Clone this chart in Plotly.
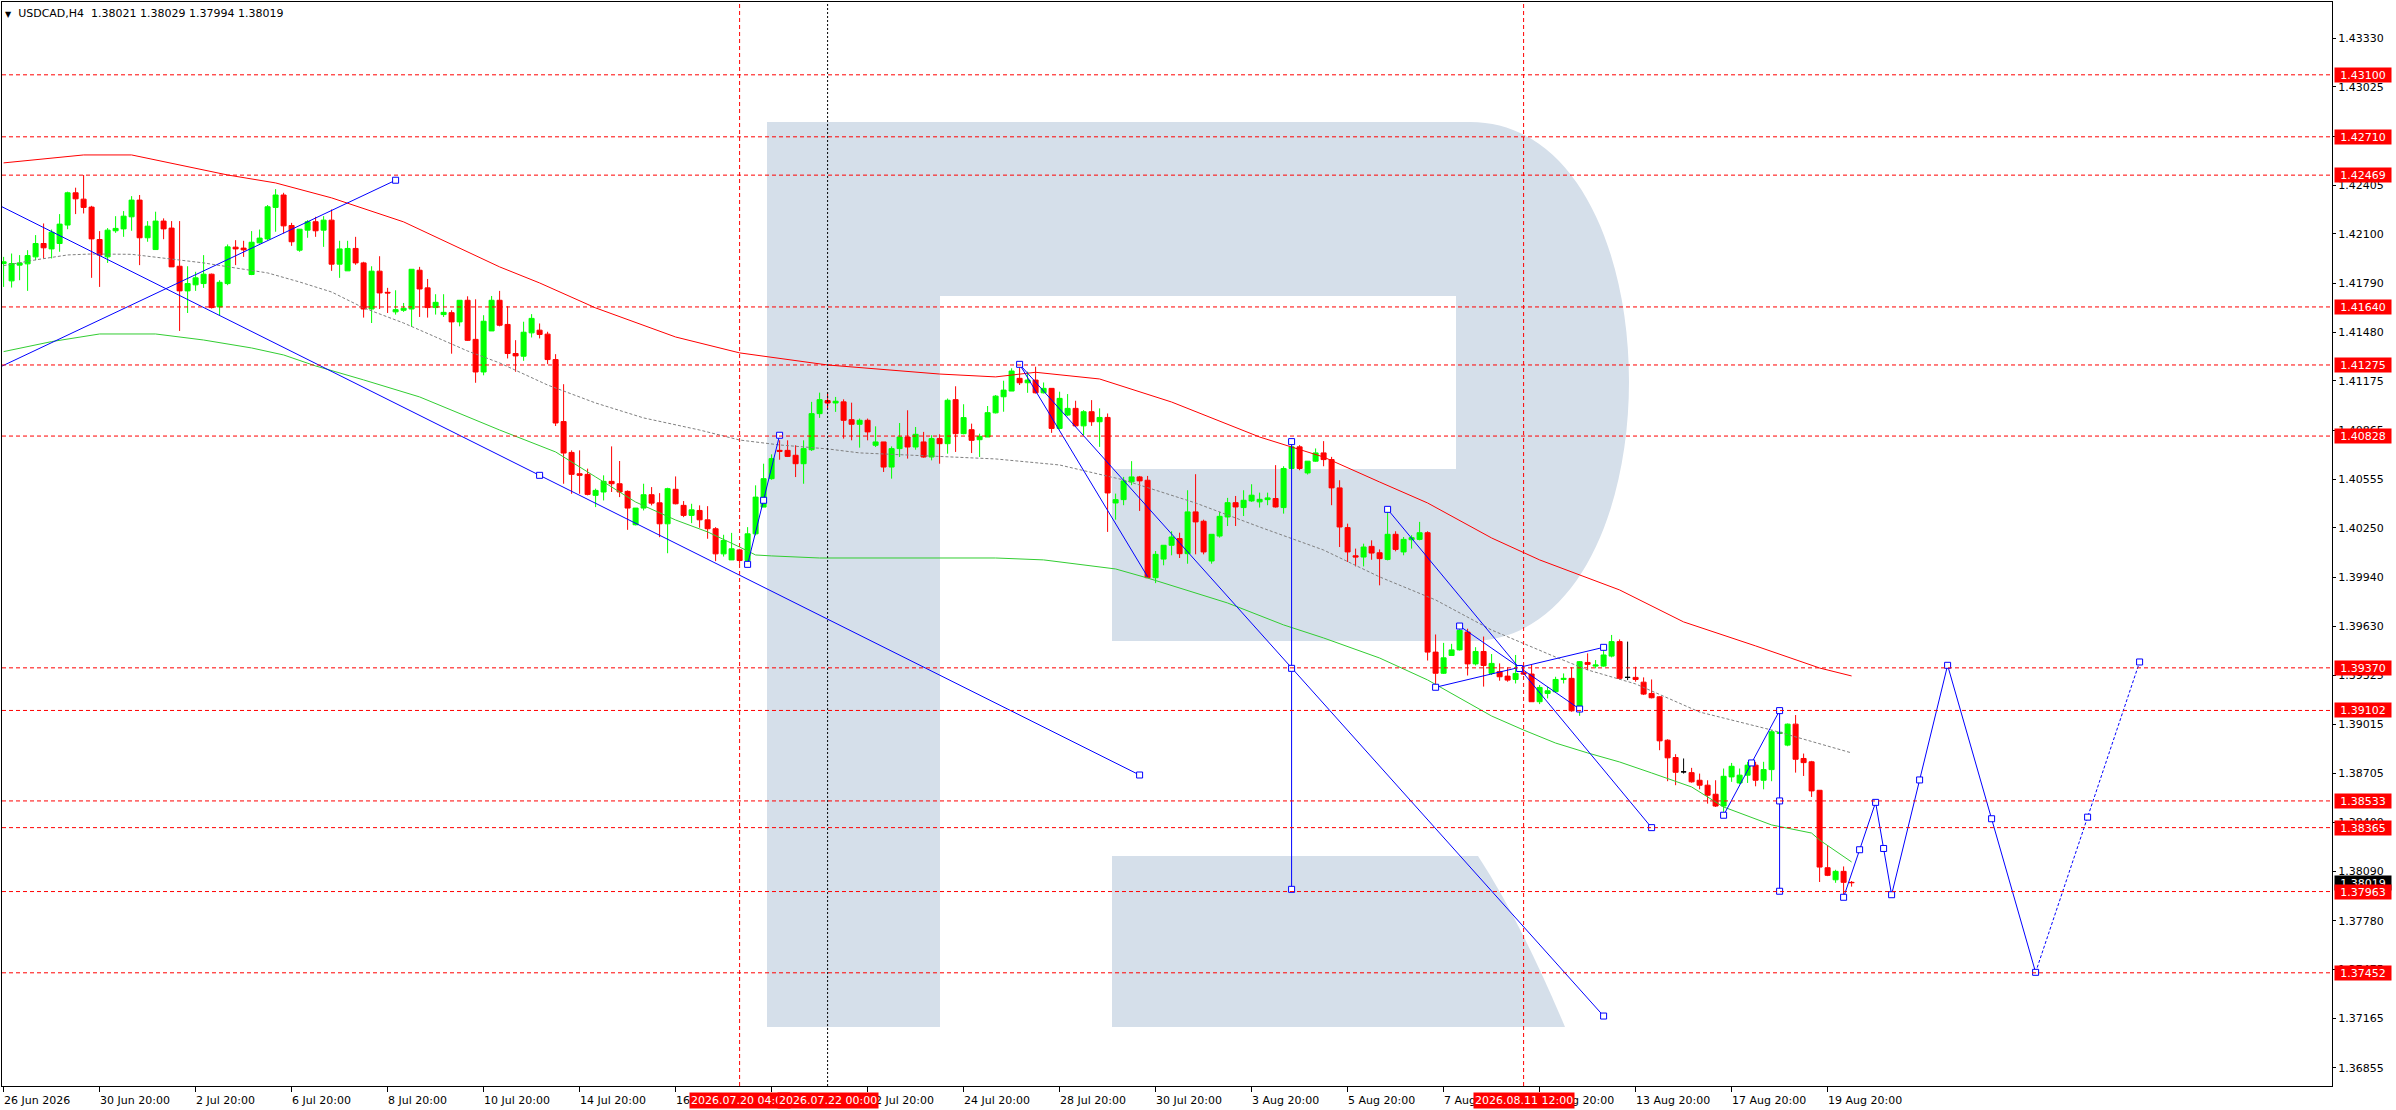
import plotly.graph_objects as go

FONT = "DejaVu Sans"

# ---------------- data ----------------
header_symbol = "USDCAD,H4"
header_values = ["1.38021", "1.38029", "1.37994", "1.38019"]

bar_open = [
    1.41913, 1.41804, 1.41903, 1.41911, 1.41955, 1.42039, 1.42005, 1.42039, 1.42155, 1.42358,
    1.42318, 1.42268, 1.42064, 1.41955, 1.42119, 1.42131, 1.42207, 1.42312, 1.42075, 1.42001,
    1.42180, 1.42136, 1.41896, 1.41741, 1.41779, 1.41787, 1.41846, 1.41640, 1.41787, 1.42016,
    1.42010, 1.41844, 1.42043, 1.42068, 1.42266, 1.42344, 1.42152, 1.41997, 1.42123, 1.42176,
    1.42123, 1.42186, 1.41909, 1.41867, 1.42008, 1.41917, 1.41627, 1.41865, 1.41732, 1.41609,
    1.41619, 1.41627, 1.41871, 1.41760, 1.41636, 1.41592, 1.41604, 1.41546, 1.41682, 1.41436,
    1.41231, 1.41489, 1.41682, 1.41530, 1.41347, 1.41330, 1.41477, 1.41494, 1.41469, 1.41309,
    1.40919, 1.40725, 1.40591, 1.40587, 1.40455, 1.40476, 1.40543, 1.40528, 1.40480, 1.40270,
    1.40375, 1.40459, 1.40408, 1.40276, 1.40493, 1.40392, 1.40329, 1.40360, 1.40301, 1.40245,
    1.40087, 1.40049, 1.40112, 1.40045, 1.40213, 1.40381, 1.40560, 1.40738, 1.40738, 1.40707,
    1.40654, 1.40742, 1.40969, 1.41051, 1.41036, 1.41043, 1.40931, 1.40902, 1.40927, 1.40770,
    1.40791, 1.40633, 1.40749, 1.40822, 1.40759, 1.40791, 1.40696, 1.40812, 1.40780, 1.41057,
    1.40843, 1.40868, 1.40805, 1.40822, 1.40974, 1.41075, 1.41111, 1.41191, 1.41163, 1.41180,
    1.41100, 1.41128, 1.40876, 1.40960, 1.41002, 1.40892, 1.40981, 1.40918, 1.40945, 1.40407,
    1.40428, 1.40540, 1.40571, 1.40550, 1.39937, 1.40054, 1.40141, 1.40183, 1.40088, 1.40351,
    1.40292, 1.40042, 1.40199, 1.40319, 1.40409, 1.40378, 1.40420, 1.40414, 1.40428, 1.40435,
    1.40378, 1.40624, 1.40760, 1.40596, 1.40670, 1.40722, 1.40680, 1.40502, 1.40252, 1.40075,
    1.40067, 1.40134, 1.40094, 1.40052, 1.40210, 1.40099, 1.40176, 1.40178, 1.40220, 1.39469,
    1.39336, 1.39448, 1.39483, 1.39595, 1.39395, 1.39473, 1.39335, 1.39346, 1.39318, 1.39297,
    1.39339, 1.39331, 1.39157, 1.39209, 1.39220, 1.39297, 1.39304, 1.39100, 1.39404, 1.39381,
    1.39381, 1.39444, 1.39535, 1.39310, 1.39310, 1.39280, 1.39209, 1.39188, 1.38915, 1.38806,
    1.38716, 1.38711, 1.38663, 1.38632, 1.38575, 1.38501, 1.38684, 1.38646, 1.38695, 1.38758,
    1.38663, 1.38730, 1.38957, 1.38884, 1.39016, 1.38800, 1.38779, 1.38600, 1.38113, 1.38037,
    1.38090, 1.38021,
]
bar_high = [
    1.41955, 1.41976, 1.41966, 1.41997, 1.42092, 1.42165, 1.42127, 1.42224, 1.42365, 1.42390,
    1.42470, 1.42276, 1.42117, 1.42136, 1.42211, 1.42243, 1.42337, 1.42344, 1.42180, 1.42239,
    1.42197, 1.42180, 1.42180, 1.41896, 1.41861, 1.41966, 1.41850, 1.41808, 1.42033, 1.42060,
    1.42056, 1.42117, 1.42127, 1.42281, 1.42381, 1.42358, 1.42169, 1.42129, 1.42186, 1.42207,
    1.42211, 1.42253, 1.42056, 1.42056, 1.42081, 1.41924, 1.41896, 1.41959, 1.41760, 1.41745,
    1.41665, 1.41877, 1.41892, 1.41816, 1.41720, 1.41720, 1.41619, 1.41682, 1.41707, 1.41688,
    1.41588, 1.41709, 1.41741, 1.41645, 1.41431, 1.41547, 1.41595, 1.41536, 1.41484, 1.41343,
    1.41154, 1.40738, 1.40738, 1.40623, 1.40497, 1.40581, 1.40763, 1.40671, 1.40486, 1.40375,
    1.40528, 1.40507, 1.40469, 1.40503, 1.40574, 1.40419, 1.40402, 1.40392, 1.40387, 1.40255,
    1.40207, 1.40219, 1.40119, 1.40255, 1.40518, 1.40654, 1.40713, 1.40801, 1.40801, 1.40770,
    1.40801, 1.41043, 1.41101, 1.41101, 1.41074, 1.41059, 1.41038, 1.40938, 1.40938, 1.40889,
    1.40791, 1.40763, 1.40910, 1.40990, 1.40885, 1.40854, 1.40833, 1.40839, 1.41064, 1.41141,
    1.41028, 1.40906, 1.40843, 1.41017, 1.41086, 1.41176, 1.41254, 1.41279, 1.41233, 1.41264,
    1.41165, 1.41128, 1.41107, 1.41092, 1.41050, 1.40991, 1.41054, 1.41002, 1.40970, 1.40466,
    1.40571, 1.40670, 1.40577, 1.40577, 1.40105, 1.40141, 1.40229, 1.40220, 1.40487, 1.40588,
    1.40302, 1.40210, 1.40351, 1.40439, 1.40451, 1.40487, 1.40525, 1.40472, 1.40472, 1.40645,
    1.40638, 1.40781, 1.40771, 1.40670, 1.40750, 1.40796, 1.40697, 1.40550, 1.40277, 1.40120,
    1.40151, 1.40172, 1.40115, 1.40365, 1.40229, 1.40193, 1.40204, 1.40288, 1.40229, 1.39580,
    1.39527, 1.39521, 1.39626, 1.39616, 1.39500, 1.39567, 1.39457, 1.39398, 1.39373, 1.39451,
    1.39381, 1.39388, 1.39262, 1.39251, 1.39314, 1.39335, 1.39373, 1.39413, 1.39461, 1.39419,
    1.39486, 1.39577, 1.39549, 1.39535, 1.39377, 1.39310, 1.39297, 1.39192, 1.38921, 1.38827,
    1.38800, 1.38741, 1.38705, 1.38663, 1.38663, 1.38737, 1.38772, 1.38737, 1.38779, 1.38779,
    1.38779, 1.38978, 1.38970, 1.39020, 1.39073, 1.38831, 1.38785, 1.38600, 1.38254, 1.38100,
    1.38121, 1.38029,
]
bar_low = [
    1.41766, 1.41762, 1.41808, 1.41741, 1.41934, 1.41945, 1.41945, 1.41987, 1.42129, 1.42224,
    1.42228, 1.41823, 1.41766, 1.41917, 1.42106, 1.42081, 1.42119, 1.41903, 1.42050, 1.42001,
    1.42066, 1.41892, 1.41489, 1.41602, 1.41741, 1.41760, 1.41630, 1.41588, 1.41777, 1.41903,
    1.41955, 1.41840, 1.42039, 1.42060, 1.42113, 1.42102, 1.42024, 1.41987, 1.42075, 1.42081,
    1.42018, 1.41867, 1.41823, 1.41867, 1.41905, 1.41573, 1.41539, 1.41627, 1.41602, 1.41592,
    1.41609, 1.41514, 1.41577, 1.41573, 1.41592, 1.41577, 1.41346, 1.41518, 1.41426, 1.41163,
    1.41210, 1.41489, 1.41518, 1.41316, 1.41232, 1.41301, 1.41448, 1.41442, 1.41280, 1.40891,
    1.40528, 1.40465, 1.40465, 1.40455, 1.40381, 1.40423, 1.40476, 1.40444, 1.40238, 1.40266,
    1.40360, 1.40392, 1.40192, 1.40091, 1.40398, 1.40318, 1.40280, 1.40251, 1.40182, 1.40041,
    1.40070, 1.40049, 1.40024, 1.40028, 1.40203, 1.40381, 1.40553, 1.40679, 1.40696, 1.40570,
    1.40528, 1.40734, 1.40942, 1.41001, 1.40980, 1.40812, 1.40801, 1.40755, 1.40801, 1.40759,
    1.40602, 1.40560, 1.40696, 1.40686, 1.40742, 1.40692, 1.40675, 1.40654, 1.40717, 1.40728,
    1.40839, 1.40721, 1.40696, 1.40822, 1.40970, 1.40981, 1.41111, 1.41149, 1.41100, 1.41096,
    1.41096, 1.40848, 1.40869, 1.40953, 1.40886, 1.40834, 1.40892, 1.40760, 1.40225, 1.40302,
    1.40393, 1.40519, 1.40357, 1.39937, 1.39903, 1.40015, 1.40078, 1.40061, 1.40025, 1.40084,
    1.40084, 1.40025, 1.40189, 1.40262, 1.40262, 1.40325, 1.40414, 1.40378, 1.40393, 1.40378,
    1.40340, 1.40617, 1.40613, 1.40586, 1.40666, 1.40638, 1.40393, 1.40130, 1.40036, 1.40008,
    1.40008, 1.40050, 1.39889, 1.40046, 1.40103, 1.40078, 1.40120, 1.40172, 1.39416, 1.39252,
    1.39332, 1.39448, 1.39479, 1.39322, 1.39385, 1.39252, 1.39325, 1.39289, 1.39283, 1.39272,
    1.39325, 1.39157, 1.39142, 1.39178, 1.39215, 1.39272, 1.39094, 1.39068, 1.39356, 1.39367,
    1.39377, 1.39436, 1.39297, 1.39293, 1.39283, 1.39199, 1.39178, 1.38852, 1.38657, 1.38632,
    1.38705, 1.38648, 1.38606, 1.38516, 1.38495, 1.38464, 1.38653, 1.38638, 1.38646, 1.38625,
    1.38606, 1.38657, 1.38953, 1.38877, 1.38711, 1.38690, 1.38558, 1.38023, 1.38060, 1.38018,
    1.37939, 1.37994,
]
bar_close = [
    1.41924, 1.41913, 1.41917, 1.41963, 1.42039, 1.42012, 1.42110, 1.42161, 1.42358, 1.42320,
    1.42266, 1.42068, 1.41966, 1.42123, 1.42134, 1.42211, 1.42312, 1.42075, 1.42148, 1.42180,
    1.42131, 1.41892, 1.41741, 1.41787, 1.41823, 1.41846, 1.41636, 1.41795, 1.42018, 1.42005,
    1.41999, 1.42047, 1.42073, 1.42270, 1.42344, 1.42150, 1.42050, 1.42129, 1.42176, 1.42119,
    1.42186, 1.41909, 1.42005, 1.42008, 1.41917, 1.41627, 1.41865, 1.41728, 1.41728, 1.41623,
    1.41632, 1.41877, 1.41753, 1.41636, 1.41669, 1.41606, 1.41546, 1.41682, 1.41430, 1.41231,
    1.41550, 1.41682, 1.41525, 1.41347, 1.41332, 1.41481, 1.41568, 1.41467, 1.41309, 1.40910,
    1.40721, 1.40587, 1.40581, 1.40461, 1.40486, 1.40543, 1.40528, 1.40476, 1.40375, 1.40375,
    1.40459, 1.40406, 1.40276, 1.40497, 1.40402, 1.40329, 1.40364, 1.40301, 1.40245, 1.40087,
    1.40171, 1.40119, 1.40045, 1.40213, 1.40444, 1.40560, 1.40686, 1.40732, 1.40700, 1.40654,
    1.40749, 1.40969, 1.41057, 1.41036, 1.41047, 1.40927, 1.40902, 1.40927, 1.40854, 1.40791,
    1.40633, 1.40749, 1.40822, 1.40759, 1.40839, 1.40696, 1.40812, 1.40780, 1.41053, 1.40843,
    1.40944, 1.40801, 1.40826, 1.40975, 1.41079, 1.41117, 1.41237, 1.41163, 1.41180, 1.41100,
    1.41128, 1.40876, 1.41065, 1.41002, 1.40892, 1.40981, 1.40918, 1.40945, 1.40470, 1.40428,
    1.40546, 1.40571, 1.40546, 1.39937, 1.40084, 1.40141, 1.40193, 1.40088, 1.40351, 1.40288,
    1.40099, 1.40210, 1.40323, 1.40409, 1.40382, 1.40424, 1.40456, 1.40430, 1.40439, 1.40382,
    1.40624, 1.40760, 1.40624, 1.40670, 1.40722, 1.40680, 1.40502, 1.40256, 1.40099, 1.40067,
    1.40130, 1.40092, 1.40057, 1.40210, 1.40115, 1.40178, 1.40189, 1.40220, 1.39469, 1.39336,
    1.39433, 1.39483, 1.39605, 1.39395, 1.39473, 1.39385, 1.39398, 1.39314, 1.39293, 1.39335,
    1.39331, 1.39157, 1.39247, 1.39226, 1.39297, 1.39304, 1.39100, 1.39409, 1.39392, 1.39388,
    1.39451, 1.39535, 1.39304, 1.39310, 1.39297, 1.39205, 1.39182, 1.38911, 1.38804, 1.38713,
    1.38716, 1.38653, 1.38632, 1.38569, 1.38501, 1.38688, 1.38751, 1.38695, 1.38758, 1.38663,
    1.38730, 1.38968, 1.38965, 1.39016, 1.38795, 1.38774, 1.38596, 1.38117, 1.38065, 1.38090,
    1.38021, 1.38019,
]

x_tick_bars = [0, 12, 24, 36, 48, 60, 72, 84, 96, 108, 120, 132, 144, 156, 168, 180, 192, 204, 216, 228]
x_tick_text = ["26 Jun 2026", "30 Jun 20:00", "2 Jul 20:00", "6 Jul 20:00", "8 Jul 20:00",
               "10 Jul 20:00", "14 Jul 20:00", "16 Jul 20:00", "20 Jul 20:00", "22 Jul 20:00",
               "24 Jul 20:00", "28 Jul 20:00", "30 Jul 20:00", "3 Aug 20:00", "5 Aug 20:00",
               "7 Aug 20:00", "11 Aug 20:00", "13 Aug 20:00", "17 Aug 20:00", "19 Aug 20:00"]

y_tick_values = [1.43330, 1.43025, 1.42715, 1.42405, 1.42100, 1.41790, 1.41480, 1.41175,
                 1.40865, 1.40555, 1.40250, 1.39940, 1.39630, 1.39325, 1.39015, 1.38705,
                 1.38400, 1.38090, 1.37780, 1.37475, 1.37165, 1.36855]

level_prices = [1.43100, 1.42710, 1.42469, 1.41640, 1.41275, 1.40828,
                1.39370, 1.39102, 1.38533, 1.38365, 1.37963, 1.37452]
current_price = 1.38019

time_marker_bars = [92, 103, 190]
time_marker_labels = ["2026.07.20 04:00", "2026.07.22 00:00", "2026.08.11 12:00"]

ma_slow_bars = [0, 10, 16, 28, 34, 41, 50, 62, 67, 74, 84, 92, 103, 117, 124, 129, 137, 146,
                157, 165, 172, 178, 186, 192, 202, 210, 219, 227, 231]
ma_slow_values = [1.42546, 1.42596, 1.42596, 1.42470, 1.42420, 1.42326, 1.42175, 1.41892,
                  1.41791, 1.41634, 1.41451, 1.41351, 1.41275, 1.41218, 1.41200, 1.41229,
                  1.41187, 1.41042, 1.40822, 1.40696, 1.40539, 1.40407, 1.40187, 1.40049,
                  1.39860, 1.39659, 1.39508, 1.39369, 1.39319]

ma_mid_bars = [0, 6, 12, 19, 25, 31, 35, 39, 45, 52, 62, 69, 74, 79, 84, 88, 92, 94, 96, 102,
               124, 130, 139, 143, 153, 160, 165, 172, 178, 186, 190, 194, 198, 202, 206, 211,
               215, 221, 226, 227, 231]
ma_mid_values = [1.41359, 1.41422, 1.41470, 1.41470, 1.41432, 1.41382, 1.41338, 1.41269,
                 1.41181, 1.41074, 1.40866, 1.40728, 1.40571, 1.40413, 1.40300, 1.40225,
                 1.40130, 1.40080, 1.40074, 1.40061, 1.40061, 1.40049, 1.39992, 1.39935,
                 1.39778, 1.39640, 1.39558, 1.39432, 1.39294, 1.39067, 1.38979, 1.38897,
                 1.38835, 1.38778, 1.38709, 1.38621, 1.38495, 1.38382, 1.38331, 1.38287,
                 1.38149]

ma_fast_bars = [0, 4, 8, 11, 16, 20, 25, 29, 33, 37, 41, 45, 50, 54, 58, 62, 68, 74, 80, 87,
                92, 97, 103, 107, 116, 124, 132, 140, 149, 157, 165, 172, 179, 186, 194, 198,
                204, 212, 221, 231]
ma_fast_values = [1.41900, 1.41936, 1.41967, 1.41973, 1.41971, 1.41948, 1.41917, 1.41885,
                  1.41854, 1.41797, 1.41734, 1.41634, 1.41539, 1.41451, 1.41363, 1.41288,
                  1.41149, 1.41036, 1.40942, 1.40866, 1.40803, 1.40772, 1.40747, 1.40722,
                  1.40703, 1.40684, 1.40646, 1.40552, 1.40407, 1.40256, 1.40111, 1.39942,
                  1.39797, 1.39608, 1.39438, 1.39357, 1.39269, 1.39092, 1.38979, 1.38835]

# drawn trend lines (bar index, price)
trend_lines = [
    ([-8, 142], [1.42466, 1.38696]),
    ([-1, 49], [1.41249, 1.42437]),
    ([93, 97], [1.40021, 1.40833]),
    ([127, 143], [1.41279, 1.39943]),
    ([127, 200], [1.41279, 1.37180]),
    ([161, 161], [1.40793, 1.37977]),
    ([173, 206], [1.40367, 1.38365]),
    ([179, 200], [1.39248, 1.39499]),
    ([182, 197], [1.39633, 1.39111]),
    ([215, 222], [1.38443, 1.39101]),
    ([222, 222], [1.39101, 1.37965]),
]
forecast_bars = [230, 234, 236, 243, 254]
forecast_prices = [1.37927, 1.38524, 1.37943, 1.39386, 1.37455]
forecast_tail_bars = [254, 267]
forecast_tail_prices = [1.37455, 1.39407]

handle_bars = [49, 67, 142, 93, 95, 97, 127, 200, 161, 161, 161, 173, 189.5, 206, 179, 200,
               182, 197, 215, 218.5, 222, 222, 222, 230, 232, 234, 235, 236, 239.5, 243,
               248.5, 254, 260.5, 267]
handle_prices = [1.42437, 1.40581, 1.38696, 1.40021, 1.40424, 1.40833, 1.41279, 1.37180,
                 1.40793, 1.39367, 1.37977, 1.40367, 1.39366, 1.38365, 1.39248, 1.39499,
                 1.39633, 1.39111, 1.38443, 1.38772, 1.39101, 1.38533, 1.37965, 1.37927,
                 1.38226, 1.38524, 1.38234, 1.37943, 1.38665, 1.39386, 1.38421, 1.37455,
                 1.38431, 1.39407]

n_bars = len(bar_open)
assert len(bar_high) == n_bars and len(bar_low) == n_bars and len(bar_close) == n_bars, \
    (len(bar_open), len(bar_high), len(bar_low), len(bar_close))
assert len(ma_slow_bars) == len(ma_slow_values)
assert len(ma_mid_bars) == len(ma_mid_values)
assert len(ma_fast_bars) == len(ma_fast_values)
assert len(handle_bars) == len(handle_prices)

# ---------------- styling / layout constants ----------------
W, H = 2396, 1110
ML, MR, MT, MB = 2, 64, 2, 24
PW, PH = W - ML - MR, H - MT - MB
X_RANGE = [-0.2, 291.05]
Y_RANGE = [1.36740, 1.43558]

GREEN = "#00ff00"
RED = "#ff0000"
BLUE = "#0000ff"
WM = "#d5dfea"


def pp(px, py):
    """page pixel -> paper fraction (for the watermark logo only)"""
    return (px - ML) / PW, 1 - (py - MT) / PH


def path(cmds):
    out = []
    for c, pts in cmds:
        s = c
        for (x, y) in pts:
            fx, fy = pp(x, y)
            s += " %.5f,%.5f" % (fx, fy)
        out.append(s)
    return " ".join(out)


fig = go.Figure()

# ---- candles ----
norm = [i for i in range(n_bars) if bar_open[i] != bar_close[i]]
doji = [i for i in range(n_bars) if bar_open[i] == bar_close[i]]
fig.add_trace(go.Candlestick(
    x=norm, open=[bar_open[i] for i in norm], high=[bar_high[i] for i in norm],
    low=[bar_low[i] for i in norm], close=[bar_close[i] for i in norm],
    increasing=dict(line=dict(color=GREEN, width=1), fillcolor=GREEN),
    decreasing=dict(line=dict(color=RED, width=1), fillcolor=RED),
    whiskerwidth=0, showlegend=False, hoverinfo="skip"))
fig.add_trace(go.Candlestick(
    x=doji, open=[bar_open[i] for i in doji], high=[bar_high[i] for i in doji],
    low=[bar_low[i] for i in doji], close=[bar_close[i] for i in doji],
    increasing=dict(line=dict(color="#000000", width=1), fillcolor="#000000"),
    decreasing=dict(line=dict(color="#000000", width=1), fillcolor="#000000"),
    whiskerwidth=0, showlegend=False, hoverinfo="skip"))

# ---- moving averages ----
fig.add_trace(go.Scatter(x=ma_slow_bars, y=ma_slow_values, mode="lines",
                         line=dict(color=RED, width=1), showlegend=False, hoverinfo="skip"))
fig.add_trace(go.Scatter(x=ma_mid_bars, y=ma_mid_values, mode="lines",
                         line=dict(color="#32cd32", width=1), showlegend=False, hoverinfo="skip"))
fig.add_trace(go.Scatter(x=ma_fast_bars, y=ma_fast_values, mode="lines",
                         line=dict(color="#808080", width=1, dash="3px,2px"),
                         showlegend=False, hoverinfo="skip"))

# ---- trend lines / forecast ----
for bx, py in trend_lines:
    fig.add_trace(go.Scatter(x=bx, y=py, mode="lines", line=dict(color=BLUE, width=1),
                             showlegend=False, hoverinfo="skip"))
fig.add_trace(go.Scatter(x=forecast_bars, y=forecast_prices, mode="lines",
                         line=dict(color=BLUE, width=1), showlegend=False, hoverinfo="skip"))
fig.add_trace(go.Scatter(x=forecast_tail_bars, y=forecast_tail_prices, mode="lines",
                         line=dict(color=BLUE, width=1, dash="3px,2px"),
                         showlegend=False, hoverinfo="skip"))
fig.add_trace(go.Scatter(x=handle_bars, y=handle_prices, mode="markers",
                         marker=dict(symbol="square", size=6, color="#ffffff",
                                     line=dict(color=BLUE, width=1)),
                         showlegend=False, hoverinfo="skip", cliponaxis=True))

# ---- shapes ----
shapes = []
# watermark logo
shapes.append(dict(type="path", xref="paper", yref="paper", layer="below",
                   fillcolor=WM, line=dict(width=0),
                   path=path([("M", [(767, 122)]), ("L", [(1470, 122)]),
                              ("C", [(1682, 122), (1682, 641), (1470, 641)]),
                              ("L", [(1112, 641)]), ("L", [(1112, 469)]), ("L", [(1456, 469)]),
                              ("L", [(1456, 296)]), ("L", [(940, 296)]), ("L", [(940, 1027)]),
                              ("L", [(767, 1027)]), ("Z", [])])))
shapes.append(dict(type="path", xref="paper", yref="paper", layer="below",
                   fillcolor=WM, line=dict(width=0),
                   path=path([("M", [(1112, 856)]), ("L", [(1478, 856)]),
                              ("Q", [(1520, 920), (1565, 1027)]),
                              ("L", [(1112, 1027)]), ("Z", [])])))
# horizontal levels
for p in level_prices:
    shapes.append(dict(type="line", xref="paper", yref="y", x0=0, x1=1, y0=p, y1=p,
                       line=dict(color=RED, width=1, dash="4px,3px")))
# vertical time markers
for b, lab in zip(time_marker_bars, time_marker_labels):
    if b == 103:
        ln = dict(color="#000000", width=1, dash="2px,2px")
    else:
        ln = dict(color=RED, width=1, dash="4px,3px")
    shapes.append(dict(type="line", xref="x", yref="paper", x0=b, x1=b, y0=0, y1=1, line=ln))

# ---- annotations ----
ann = []
ann.append(dict(xref="paper", yref="paper", x=0, y=1, xanchor="left", yanchor="top",
                xshift=1, yshift=-3, showarrow=False, bgcolor="#ffffff", borderpad=1,
                text="<span style='font-size:8px'>▼</span>\u00a0\u00a0" + header_symbol
                     + "\u00a0\u00a0" + " ".join(header_values),
                font=dict(family=FONT, size=11, color="#000000")))
for b, t in zip(x_tick_bars, x_tick_text):
    ann.append(dict(xref="x", yref="paper", x=b, y=0, xanchor="left", yanchor="top",
                    xshift=-2, yshift=-6, showarrow=False, text=t, borderpad=1,
                    font=dict(family=FONT, size=11, color="#000000")))
for b, lab in zip(time_marker_bars, time_marker_labels):
    ann.append(dict(xref="x", yref="paper", x=b, y=0, xanchor="center", yanchor="top",
                    yshift=-6, showarrow=False, text=lab, bgcolor=RED, borderpad=1,
                    font=dict(family=FONT, size=11, color="#ffffff")))
ann.append(dict(xref="paper", yref="y", x=1, y=current_price, xanchor="left", yanchor="middle",
                xshift=2, showarrow=False, text="%.5f" % current_price, bgcolor="#000000",
                width=56, height=14, borderpad=0, align="center",
                font=dict(family=FONT, size=11, color="#ffffff")))
for p in level_prices:
    ann.append(dict(xref="paper", yref="y", x=1, y=p, xanchor="left", yanchor="middle",
                    xshift=2, showarrow=False, text="%.5f" % p, bgcolor=RED,
                    width=56, height=14, borderpad=0, align="center",
                    font=dict(family=FONT, size=11, color="#ffffff")))

fig.update_layout(
    template="none",
    width=W, height=H,
    margin=dict(l=ML, r=MR, t=MT, b=MB, pad=0, autoexpand=False),
    paper_bgcolor="#ffffff", plot_bgcolor="#ffffff",
    showlegend=False, hovermode=False,
    boxgap=0.375, boxgroupgap=0,
    shapes=shapes, annotations=ann,
    font=dict(family=FONT, size=11, color="#000000"),
    xaxis=dict(range=X_RANGE, showgrid=False, zeroline=False, showline=True, mirror=True,
               linecolor="#000000", linewidth=1, ticks="outside", ticklen=5,
               tickcolor="#000000", tickwidth=1, tickvals=x_tick_bars, showticklabels=False,
               rangeslider=dict(visible=False), automargin=False, fixedrange=True),
    yaxis=dict(range=Y_RANGE, side="right", showgrid=False, zeroline=False, showline=True,
               mirror=True, linecolor="#000000", linewidth=1, ticks="outside", ticklen=3,
               tickcolor="#000000", tickwidth=1, tickvals=y_tick_values,
               ticktext=["%.5f" % v for v in y_tick_values],
               tickfont=dict(family=FONT, size=11, color="#000000"),
               automargin=False, fixedrange=True),
)

fig.write_html("out.html", config=dict(displayModeBar=False, staticPlot=True),
               post_script="document.body.style.margin='0';document.body.style.overflow='hidden';")
